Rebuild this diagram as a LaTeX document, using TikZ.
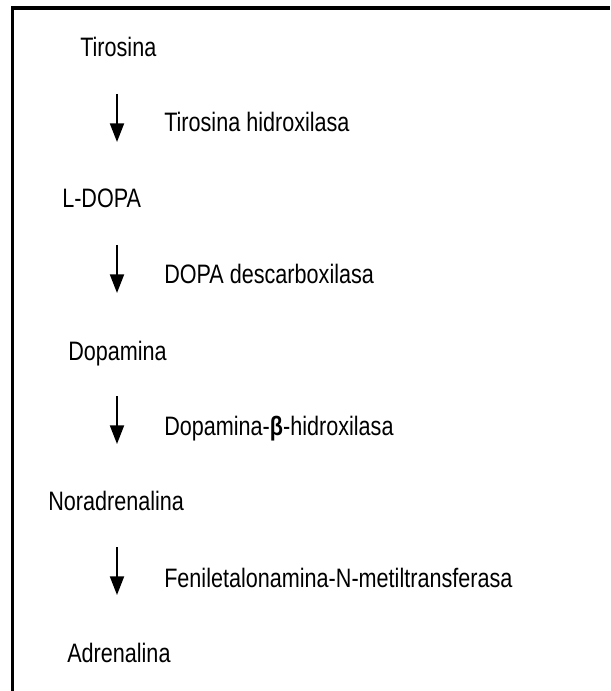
\documentclass[tikz,border=0pt]{standalone}
\usepackage{fontspec}
\setmainfont{Liberation Sans}[FakeStretch=0.81]
\usetikzlibrary{arrows.meta}
\begin{document}
\begin{tikzpicture}[
  x=0.75pt, y=-0.75pt,
  compound/.style={anchor=base west, inner sep=0pt, font=\fontsize{20}{24}\selectfont},
  enzyme/.style={anchor=base west, inner sep=0pt, font=\fontsize{20}{24}\selectfont},
  reaction/.style={line width=1.5pt, -{Triangle[width=10.5pt,length=14pt]}},
  frame/.style={line width=2.6pt, line join=miter}
]
\useasboundingbox (0,0) rectangle (610,691);

% --- Frame: top and left side ---
\coordinate (FB) at (12.5,691);
\coordinate (FC) at (12.5,8);
\coordinate (FR) at (610,8);
\draw[frame] (FB) -- (FC) -- (FR);

% --- Compounds ---
\node[compound] (tir) at (80,57) {Tirosina};
\node[compound] (ldopa) at (62,208) {L-DOPA};
\node[compound] (dop) at (68,360) {Dopamina};
\node[compound] (nor) at (48,510) {Noradrenalina};
\node[compound] (adr) at (67,662) {Adrenalina};

% --- Enzymes ---
\node[enzyme] (th) at (164,132) {Tirosina hidroxilasa};
\node[enzyme] (ddc) at (164,283) {DOPA descarboxilasa};
\node[enzyme] (dbh) at (164,435) {Dopamina-\textbf{β}-hidroxilasa};
\node[enzyme] (pnmt) at (164,587) {Feniletalonamina-N-metiltransferasa};

% --- Arrow ends ---
\coordinate (r1a) at (117,94);
\coordinate (r1b) at (117,142);
\coordinate (r2a) at (117,245);
\coordinate (r2b) at (117,293);
\coordinate (r3a) at (117,396);
\coordinate (r3b) at (117,444);
\coordinate (r4a) at (117,547);
\coordinate (r4b) at (117,595);

% --- Reactions ---
\draw[reaction] (r1a) -- (r1b);
\draw[reaction] (r2a) -- (r2b);
\draw[reaction] (r3a) -- (r3b);
\draw[reaction] (r4a) -- (r4b);

\end{tikzpicture}
\end{document}
